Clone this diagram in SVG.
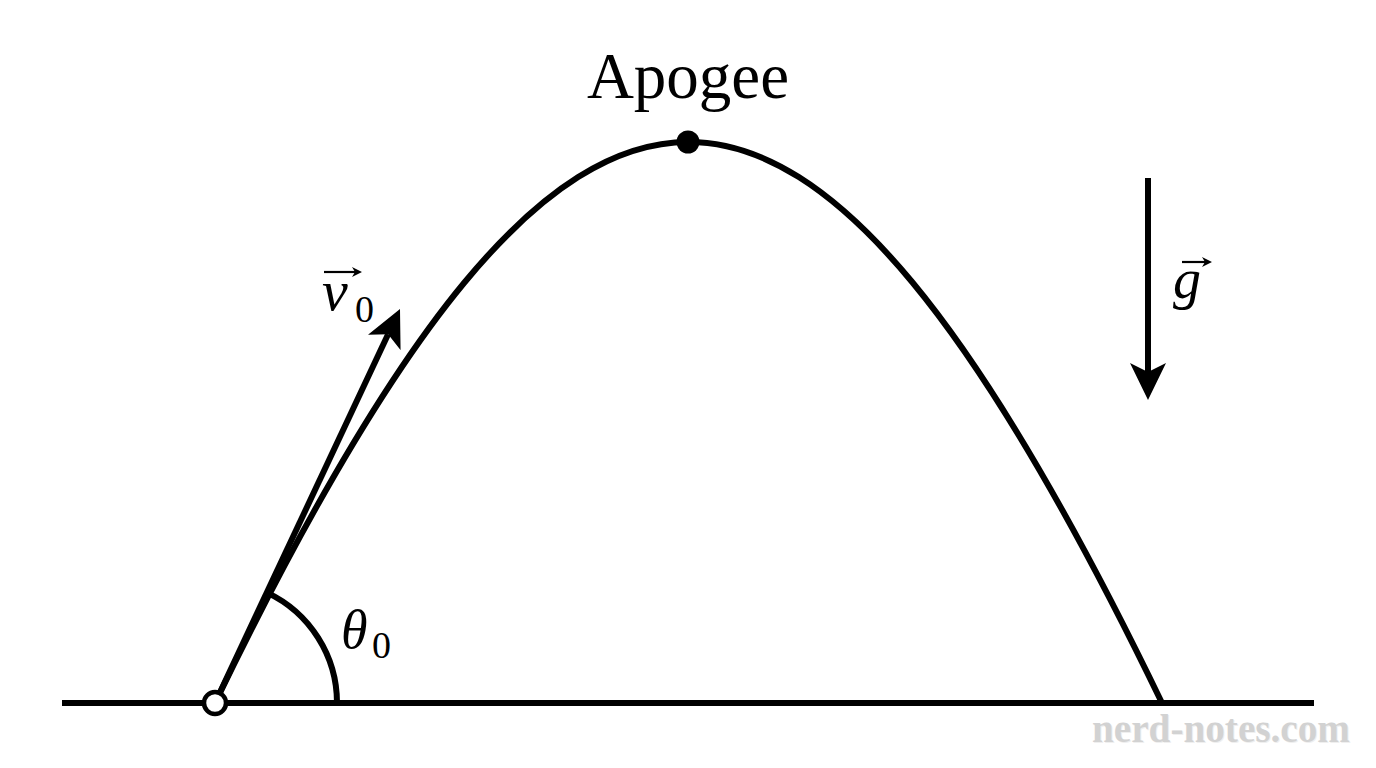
<svg xmlns="http://www.w3.org/2000/svg" width="1376" height="768" viewBox="0 0 1376 768">
<style>
.ln{fill:none;stroke:#000;stroke-width:6;stroke-linecap:butt}
.tx{font-family:"Liberation Serif","Times New Roman",serif;fill:#000}
.it{font-style:italic}
.wm{font-family:"Liberation Serif","Times New Roman",serif;fill:#d2d2d2;font-weight:bold}
</style>
<defs>
<marker id="ah" viewBox="0 0 37 36" refX="9" refY="18" markerWidth="37" markerHeight="36" markerUnits="userSpaceOnUse" orient="auto">
<path d="M0,0 L37,18 L0,36 L9,18 Z" fill="#000"/>
</marker>
<marker id="sm" viewBox="0 0 10 10" refX="3" refY="5" markerWidth="10" markerHeight="10" markerUnits="userSpaceOnUse" orient="auto">
<path d="M0,0 L10,5 L0,10 L3,5 Z" fill="#000"/>
</marker>
</defs>
<rect width="1376" height="768" fill="#fff"/>
<g id="connectors">
<line id="ground" class="ln" x1="62" y1="703" x2="1314" y2="703"/>
<path id="angle-arc" class="ln" stroke-width="5" d="M337,703 A122,122 0 0 0 267,592.6"/>
<path id="trajectory" class="ln" d="M215,703 C576.5,-45 800.5,-45 1162,703"/>
<line id="v0-vector" class="ln" x1="215" y1="703" x2="388.1" y2="334.3" marker-end="url(#ah)"/>
<line id="g-vector" class="ln" x1="1148" y1="178" x2="1148" y2="372" marker-end="url(#ah)"/>
</g>
<g id="launch-point">
<circle cx="215" cy="703" r="11" fill="#fff" stroke="#000" stroke-width="4.5"/>
</g>
<g id="apogee">
<circle cx="688" cy="142" r="11.5" fill="#000"/>
<text class="tx" x="688" y="98" font-size="65" text-anchor="middle">Apogee</text>
</g>
<g id="theta-label">
<text class="tx it" x="341" y="648" font-size="54">θ</text>
<text class="tx" x="372" y="658" font-size="38">0</text>
</g>
<g id="v0-label">
<text class="tx it" x="322" y="310" font-size="58">v</text>
<text class="tx" x="355" y="322" font-size="38">0</text>
<line x1="324" y1="272" x2="355" y2="272" stroke="#000" stroke-width="2.2" marker-end="url(#sm)"/>
</g>
<g id="g-label">
<text class="tx it" x="1173" y="298" font-size="56">g</text>
<line x1="1182" y1="262" x2="1205" y2="262" stroke="#000" stroke-width="2.2" marker-end="url(#sm)"/>
</g>
<g id="watermark">
<text class="wm" x="1092" y="742" font-size="40" textLength="258" lengthAdjust="spacingAndGlyphs" fill="#999" opacity="0.35" transform="translate(1,1)">nerd-notes.com</text>
<text class="wm" x="1092" y="742" font-size="40" textLength="258" lengthAdjust="spacingAndGlyphs">nerd-notes.com</text>
</g>
</svg>
